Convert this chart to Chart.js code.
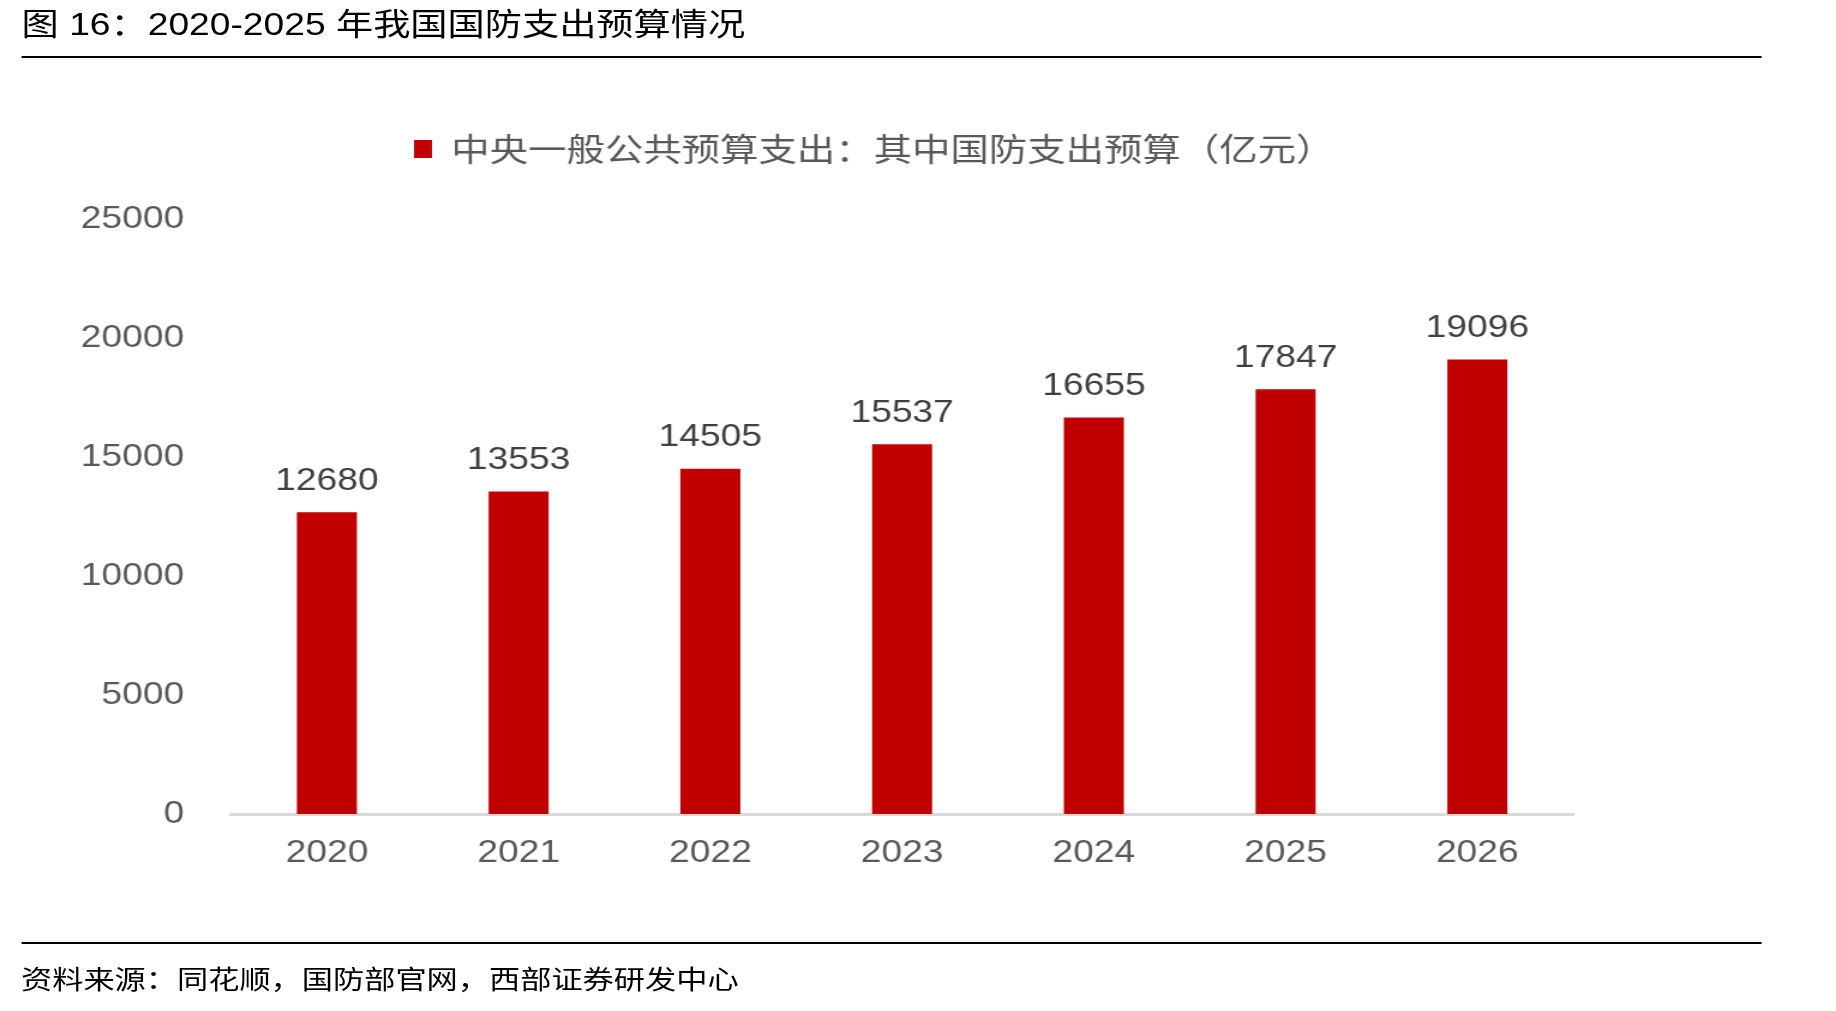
<!DOCTYPE html>
<html>
<head>
<meta charset="utf-8">
<script src="https://cdn.jsdelivr.net/npm/chart.js@4.4.1/dist/chart.umd.min.js"></script>
<style>
  body { margin: 0; background: #fff; width: 1836px; height: 1011px; overflow: hidden; }
  /* the reference is stretched sideways, so the whole page is drawn narrow and scaled */
  #page { position: absolute; left: 0; top: 0; width: 1530px; height: 1011px; transform: scaleX(1.2); transform-origin: 0 0; }
  .title { position: absolute; left: 18px; top: -1px; font-size: 31px; font-family: "Liberation Sans", "Noto Sans CJK SC", sans-serif; color: #000; white-space: nowrap; }
  .rule { position: absolute; left: 17.5px; width: 1450px; height: 2px; background: #000; }
  .source { position: absolute; left: 17.5px; top: 959px; font-size: 26px; font-family: "Noto Sans CJK SC", sans-serif; color: #000; white-space: nowrap; }
  #box { position: absolute; left: 0; top: 100px; width: 1444px; height: 800px; }
</style>
</head>
<body>
<div id="page">
  <div class="title">图 16：2020-2025 年我国国防支出预算情况</div>
  <div class="rule" style="top:56px"></div>
  <div id="box"><canvas id="chart"></canvas></div>
  <div class="rule" style="top:942px"></div>
  <div class="source">资料来源：同花顺，国防部官网，西部证券研发中心</div>
</div>
<script>
const years = ['2020', '2021', '2022', '2023', '2024', '2025', '2026'];
const defenseBudget = [12680, 13553, 14505, 15537, 16655, 17847, 19096];
const seriesName = '中央一般公共预算支出：其中国防支出预算（亿元）';

// value labels above bars
const barLabels = {
  id: 'barLabels',
  afterDatasetsDraw(chart) {
    const ctx = chart.ctx;
    const meta = chart.getDatasetMeta(0);
    ctx.save();
    ctx.font = '31px "Liberation Sans", Arial, sans-serif';
    ctx.fillStyle = '#404040';
    ctx.textAlign = 'center';
    ctx.textBaseline = 'middle';
    meta.data.forEach((bar, i) => {
      ctx.fillText(String(defenseBudget[i]), bar.x, bar.y - 31);
    });
    ctx.restore();
  }
};

// bigger gap under the legend, and legend nudged right like the original
const legendTweak = {
  id: 'legendTweak',
  afterInit(chart) {
    const lg = chart.legend;
    const fit = lg.fit.bind(lg);
    const draw = lg.draw.bind(lg);
    lg.fit = function () { fit(); this.height += 44; };
    lg.draw = function () {
      chart.ctx.save();
      chart.ctx.translate(73, 0);
      draw();
      chart.ctx.restore();
    };
  }
};

new Chart(document.getElementById('chart'), {
  type: 'bar',
  data: {
    labels: years,
    datasets: [{
      label: seriesName,
      data: defenseBudget,
      backgroundColor: '#c00000',
      borderWidth: 0,
      barPercentage: 0.313,
      categoryPercentage: 1
    }]
  },
  options: {
    responsive: true,
    maintainAspectRatio: false,
    animation: false,
    layout: { padding: { top: 23, right: 133, left: 0, bottom: 0 } },
    plugins: {
      legend: {
        position: 'top',
        labels: {
          boxWidth: 15,
          boxHeight: 18,
          padding: 10,
          color: '#595959',
          font: { size: 32, family: '"Noto Sans CJK SC", sans-serif' }
        }
      },
      tooltip: { enabled: false }
    },
    scales: {
      x: {
        grid: { display: false, drawTicks: false },
        border: { display: true, color: '#d9d9d9', width: 3 },
        ticks: { color: '#595959', padding: 21, font: { size: 31, family: '"Liberation Sans", Arial, sans-serif' } },
        afterFit: s => { s.height = 86; }
      },
      y: {
        min: 0,
        max: 25000,
        grid: { display: false, drawTicks: false },
        border: { display: false },
        ticks: {
          stepSize: 5000,
          color: '#595959',
          padding: 39,
          font: { size: 31, family: '"Liberation Sans", Arial, sans-serif' },
          callback: v => String(v)
        },
        afterFit: s => { s.width = 192.5; }
      }
    }
  },
  plugins: [barLabels, legendTweak]
});
</script>
</body>
</html>
